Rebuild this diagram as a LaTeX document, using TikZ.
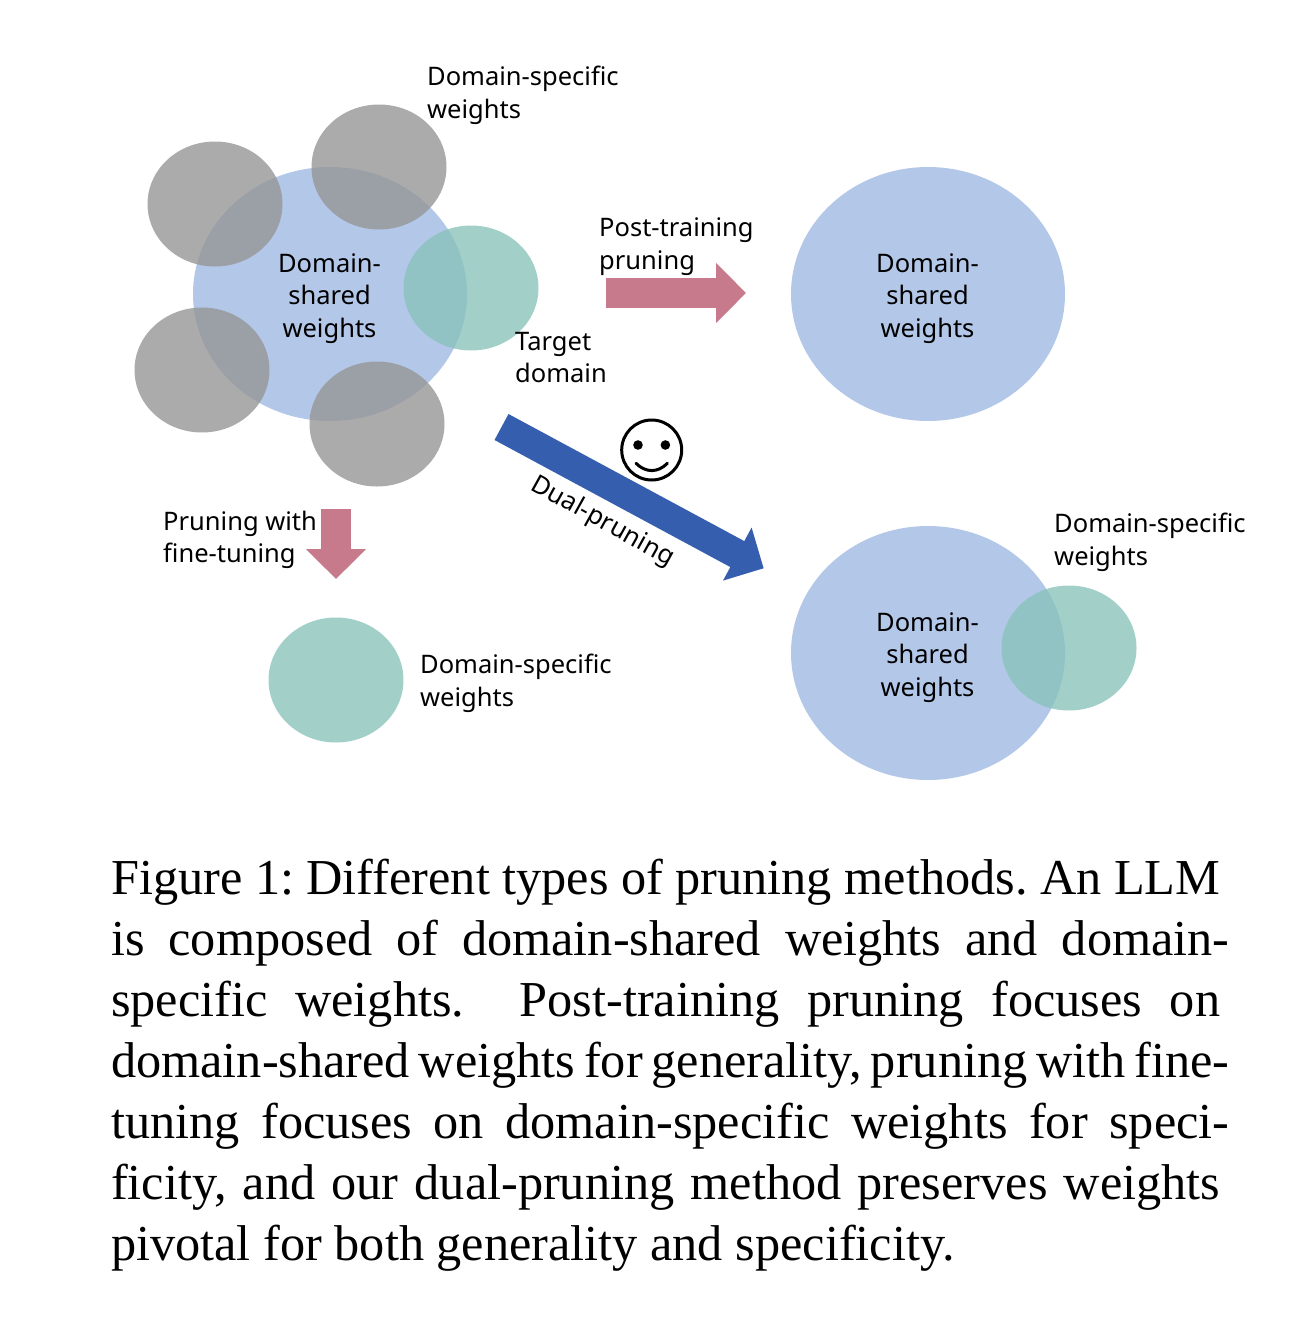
\documentclass[tikz,border=0pt]{standalone}
\usepackage{fontspec}
\setmainfont{Noto Sans}
\newfontfamily\capfont{Liberation Serif}
\usetikzlibrary{arrows.meta, shapes.geometric}
\newcommand{\capdash}{\rlap{-}\hspace*{7.5pt}}
\definecolor{sharedblue}{HTML}{B3C7E8}
\definecolor{specgray}{HTML}{959595}
\definecolor{targetteal}{HTML}{89C2BA}
\definecolor{prunepink}{HTML}{C67A8C}
\definecolor{dualblue}{HTML}{355FAE}
\tikzset{
	label font/.style={font=\fontsize{25.5}{32.4}\selectfont, text=black},
	shared/.style={ellipse, fill=sharedblue, minimum width=274pt, minimum height=254pt, inner sep=0pt},
	specific/.style={ellipse, fill=specgray, fill opacity=0.79, minimum width=135pt, minimum height=125pt, inner sep=0pt},
	target/.style={specific, fill=targetteal, fill opacity=0.78},
	tag/.style={label font, align=left, inner sep=0pt, anchor=north west},
	stack/.style={label font, align=center, inner sep=0pt},
	line/.style={draw, line width=29.5pt, -{Triangle[length=30pt, width=58.5pt]}},
	pink line/.style={line, draw=prunepink, prunepink},
	blue line/.style={line, draw=dualblue, dualblue}
}
\begin{document}
\begin{tikzpicture}[x=1pt,y=-1pt]
	\useasboundingbox (0,0) rectangle (1292,1317);
	% Full model
	\node[shared] (S-1) at (330,294) {};
	\node[specific] (G-1) at (215,204) {};
	\node[specific] (G-2) at (379,167) {};
	\node[specific] (G-3) at (202,370) {};
	\node[specific] (G-4) at (377,424) {};
	\node[target] (T-1) at (471,288) {};
	\node[stack] (W-1) at (329.5,298.5) {Domain-\\shared\\weights};
	\node[tag] (L-1) at (427,66) {Domain-specific\\weights};
	\node[tag] (L-2) at (515,332) {Target\\domain};

	% Post-training result
	\node[shared] (S-2) at (928,294) {};
	\node[stack] (W-2) at (927.5,298.5) {Domain-\\shared\\weights};
	\node[tag] (L-3) at (599,218) {Post-training\\pruning};

	% Fine-tuning result
	\node[target] (T-2) at (336,680) {};
	\node[tag] (L-4) at (163,511) {Pruning with\\fine-tuning};
	\node[tag] (L-5) at (420,654) {Domain-specific\\weights};

	% Dual-pruning result
	\node[shared] (S-3) at (928,653) {};
	\node[target] (T-3) at (1069,648) {};
	\node[stack] (W-3) at (927.5,657.5) {Domain-\\shared\\weights};
	\node[tag] (L-6) at (1054,513) {Domain-specific\\weights};
	\node[label font, rotate=-29, inner sep=0pt] (L-7) at (602.5,522) {Dual-pruning};

	% Arrows
	\coordinate (A-1) at (606,293);
	\coordinate (B-1) at (746,293);
	\coordinate (A-2) at (336,509);
	\coordinate (B-2) at (336,579);
	\coordinate (A-3) at (501.5,427);
	\coordinate (B-3) at (763.7,568.3);
	\draw[pink line] (A-1) -- (B-1);
	\draw[pink line] (A-2) -- (B-2);
	\draw[blue line] (A-3) -- (B-3);

	% Smiley
	\node[circle, draw=black, line width=3pt, minimum size=60pt, inner sep=0pt] (F) at (651.7,450) {};
	\fill (638,445) circle (4.8);
	\fill (665.4,445) circle (4.8);
	\draw[line width=3pt, line cap=round] (636,463.3) .. controls (645.7,473) and (657.7,473) .. (667.4,463.3);

	% Caption
	\node[anchor=north west, text width=1109pt, align=justify, inner sep=0pt, font=\capfont\frenchspacing\fontsize{50.3}{61}\selectfont] (C) at (111,859) {\spaceskip=0.25em plus 0.3em minus 0.12em\relax Figure 1: Different types of pruning methods. An LLM\linebreak is composed of domain-shared weights and domain\capdash\linebreak specific weights.\ \ Post-training pruning focuses on\linebreak domain-shared weights for generality, pruning with fine\capdash\linebreak tuning focuses on domain-specific weights for speci\capdash\linebreak ficity, and our dual-pruning method preserves weights\linebreak pivotal for both generality and specificity.};
\end{tikzpicture}
\end{document}
